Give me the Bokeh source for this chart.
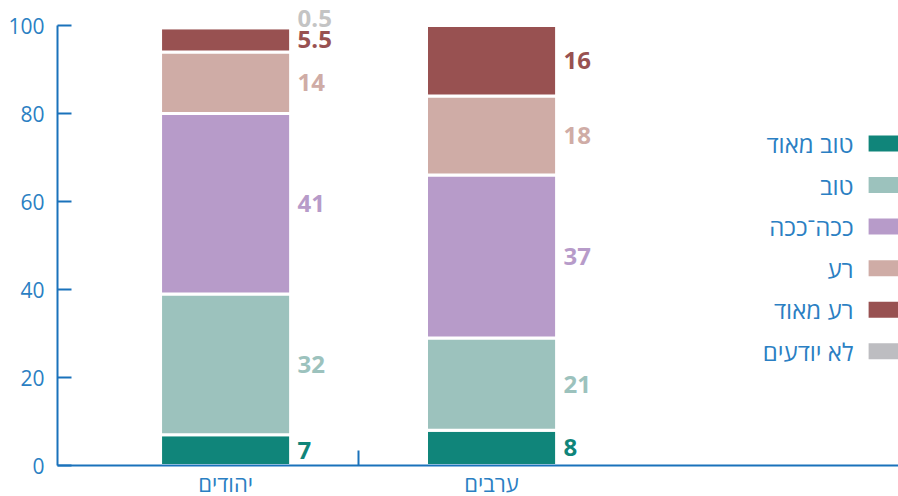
from bokeh.plotting import figure
from bokeh.models import Range1d, FixedTicker, ColumnDataSource, LabelSet
from bokeh.embed import file_html
from bokeh.resources import INLINE
from bokeh.core.properties import value

# ---------------- data ----------------
groups = ["יהודים", "ערבים"]
series = ["טוב מאוד", "טוב", "ככה־ככה", "רע", "רע מאוד", "לא יודעים"]
very_good = [7, 8]
good = [32, 21]
so_so = [41, 37]
bad = [14, 18]
very_bad = [5.5, 16]
dont_know = [0.5, 0]
y_ticks = [0, 20, 40, 60, 80, 100]

# ---------------- style ----------------
colors = ["#10857a", "#9cc2bd", "#b79bc9", "#cfaca6", "#985151", "#bdbdc1"]
label_colors = ["#10857a", "#9cc2bd", "#b79bc9", "#cfaca6", "#985151", "#c4c4c4"]
AXIS = "#1a72bb"
TXT = "#2b7fc3"
FONT = "Open Sans"
FS = "24px"
BAR_W = 0.489

values = [very_good, good, so_so, bad, very_bad, dont_know]
xs = list(range(len(groups)))

p = figure(frame_width=841, frame_height=460, output_backend="svg",
           toolbar_location=None,
           x_range=Range1d(-0.632, 2.53), y_range=Range1d(0, 104.55),
           min_border_left=57, min_border_right=0, min_border_top=5,
           min_border_bottom=31)
p.outline_line_color = None
p.xgrid.visible = False
p.ygrid.visible = False
p.background_fill_color = "white"
p.border_fill_color = "white"

src = {"x": xs}
for name, vals in zip(series, values):
    src[name] = vals
source = ColumnDataSource(src)
p.vbar_stack(series, x="x", width=BAR_W, color=colors, source=source,
             line_color="white", line_width=3)

# value labels
lx, ly, lt, lc, loff = [], [], [], [], []
for gi in xs:
    base = 0
    for si, vals in enumerate(values):
        v = vals[gi]
        if v > 0:
            lx.append(gi + BAR_W / 2)
            ly.append(base + v / 2)
            lt.append(f"{v:g}")
            lc.append(label_colors[si])
            loff.append(8 if v < 1 else 0)
        base += v
lsrc = ColumnDataSource(dict(x=lx, y=ly, t=lt, c=lc, off=loff))
labels = LabelSet(x="x", y="y", text="t", source=lsrc, text_color="c",
                  x_offset=7, y_offset="off", text_font=value(FONT),
                  text_font_style="bold", text_font_size=FS,
                  text_baseline="middle", text_align="left")
p.add_layout(labels)

# legend (right-to-left: text left of swatch)
leg_x_sw = 2.474
leg_x_txt = 2.361
leg_top = 73.2
leg_step = 9.45
leg_y = [leg_top - i * leg_step for i in range(len(series))]
p.rect(x=[leg_x_sw] * len(series), y=leg_y, width=30, height=16,
       width_units="screen", height_units="screen", fill_color=colors,
       line_color=None)
p.text(x=[leg_x_txt] * len(series), y=leg_y, text=series,
       text_font=value(FONT), text_font_size=FS, text_color=TXT,
       text_align="right", text_baseline="middle")

# y axis
ya = p.yaxis[0]
ya.ticker = FixedTicker(ticks=y_ticks)
ya.bounds = (0, 100)
ya.axis_line_color = AXIS
ya.axis_line_width = 2
ya.major_tick_line_color = AXIS
ya.major_tick_line_width = 2
ya.major_tick_in = 14
ya.major_tick_out = 0
ya.minor_tick_line_color = None
ya.major_label_standoff = 13
ya.major_label_text_color = TXT
ya.major_label_text_font = FONT
ya.major_label_text_font_size = "21px"

# x axis
xa = p.xaxis[0]
xa.ticker = FixedTicker(ticks=xs, minor_ticks=[0.5])
xa.major_label_overrides = {i: g for i, g in zip(xs, groups)}
xa.axis_line_color = AXIS
xa.axis_line_width = 2
xa.major_tick_line_color = None
xa.major_tick_in = 0
xa.major_tick_out = 0
xa.minor_tick_line_color = AXIS
xa.minor_tick_line_width = 2
xa.minor_tick_in = 15
xa.minor_tick_out = 0
xa.major_label_standoff = 2
xa.major_label_text_color = TXT
xa.major_label_text_font = FONT
xa.major_label_text_font_size = "22px"

open("out.html", "w").write(file_html(p, INLINE))
